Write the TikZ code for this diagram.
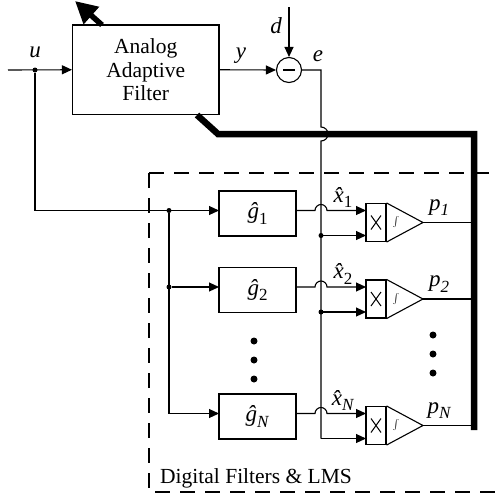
\documentclass[tikz,border=0pt]{standalone}
\usepackage{fontspec}
\setmainfont{Liberation Serif}
\usetikzlibrary{arrows.meta,calc}
\newcommand\subl[1]{\raisebox{-5.5pt}{\fontsize{17}{17}\selectfont #1}}
\begin{document}
\begin{tikzpicture}[x=1pt,y=-1pt,
  wire/.style={line width=1.1pt},
  sig/.style={wire,-{Triangle[length=10pt,width=9pt]}},
  bus/.style={line width=6.5pt,line join=miter},
  blk/.style={draw,line width=1.1pt,inner sep=0pt},
  jdot/.style={circle,fill,inner sep=0pt,minimum size=5pt},
  bigdot/.style={circle,fill,inner sep=0pt,minimum size=7pt},
  txt/.style={font=\fontsize{21.5}{23.5}\selectfont,inner sep=0pt},
  lbl/.style={font=\fontsize{23}{24}\selectfont\itshape,inner sep=0pt}
]
\useasboundingbox (0,0) rectangle (497,499);

% dashed region
\draw[line width=1.2pt,dash pattern=on 15pt off 10pt] (149,173) -- (500,173);
\draw[line width=1.2pt,dash pattern=on 15pt off 10pt] (149,173) -- (149,492) -- (500,492);
\node[txt,anchor=west] (dlab) at (160,478) {Digital Filters \& LMS};

% analog filter
\node[blk,txt,minimum width=146.5pt,minimum height=89.5pt,align=center] (filt) at (145.75,69.75) {Analog\\Adaptive\\Filter};
\node[draw,circle,line width=1.1pt,minimum size=25pt,inner sep=0pt] (sum) at (289,70) {};
\draw[line width=1.6pt] ($(sum)+(-6,0)$) -- ($(sum)+(6,0)$);

\coordinate (in) at (8,70);
\node[jdot] (uj) at (35,70) {};
\coordinate (dsrc) at (289,7);
\coordinate (ec) at (321,70);

\draw[sig] (in) -- (filt.west);
\draw[sig] (filt.east) -- (sum.west);
\draw[sig] (dsrc) -- (sum.north);

\node[lbl] (ul) at (35,52) {u};
\node[lbl] (yl) at (241,56) {y};
\node[lbl] (dl) at (276,26) {d};
\node[lbl] (el) at (318,56) {e};

% thick adaptation bus and arrow
\coordinate (bs) at (197,115);
\coordinate (bk) at (218,134);
\coordinate (bc) at (474,134);
\coordinate (be) at (474,430);
\draw[bus] (bs) -- (bk) -- (bc) -- (be);
\coordinate (as) at (102,25);
\coordinate (ae) at (75,1);
\draw[line width=5.5pt,-{Triangle[length=22pt,width=22pt]}] (as) -- (ae);

% rows
\foreach \i/\r/\s in {1/210.5/1,2/287/2,3/413.5/\textit{N}}{
  \node[blk,lbl,minimum width=77pt,minimum height=45pt] (g\i) at (257.5,{\r+3}) {ĝ\subl{\upshape\s}};
  \coordinate (gi\i) at (219,\r);
  \coordinate (go\i) at (296,\r);
  \node[blk,minimum width=20pt,minimum height=38pt] (m\i) at (376,{\r+12}) {};
  \coordinate (mi\i) at (366,\r);
  \coordinate (ml\i) at (366,{\r+25});
  \coordinate (ed\i) at (321,{\r+25});
  \coordinate (t\i) at (423,{\r+12});
  \coordinate (o\i) at (474,{\r+12});
  \draw[wire] (m\i.north east) -- (t\i) -- (m\i.south east);
  \draw[line width=1pt] ($(m\i)+(-5,-7)$) -- ($(m\i)+(5,7)$);
  \draw[line width=1pt] ($(m\i)+(-5,7)$) -- ($(m\i)+(5,-7)$);
  \node[inner sep=0pt,font=\fontsize{17}{17}\selectfont] (int\i) at (396,{\r+12}) {$\int$};
  \draw[sig] (go\i) -- (315,\r) arc(180:0:6pt) -- (mi\i);
  \draw[sig] (ed\i) -- (ml\i);
  \draw[wire] (t\i) -- (o\i);
  \node[lbl] (xl\i) at (343,{\r-13}) {\^{x}\subl{\upshape\s}};
  \node[lbl] (pl\i) at (439,{\r-3}) {p\subl{\s}};
}

% distribution of u
\node[jdot] (jd1) at (169,210.5) {};
\node[jdot] (jd2) at (169,287) {};
\coordinate (jc3) at (169,413.5);
\draw[sig] (uj) |- (gi1);
\draw[wire] (jd1) -- (jc3);
\draw[sig] (jd2) -- (gi2);
\draw[sig] (jc3) -- (gi3);

% error line
\node[jdot] (ej1) at (ed1) {};
\node[jdot] (ej2) at (ed2) {};
\draw[wire] (sum.east) -- (ec) -- (321,127) arc(90:-90:7pt) -- (ed3);

% ellipsis dots
\foreach \k/\yy in {1/341,2/360,3/379}{\node[bigdot] (ld\k) at (254,\yy) {};}
\foreach \k/\yy in {1/335,2/354,3/373}{\node[bigdot] (rd\k) at (433,\yy) {};}
\end{tikzpicture}
\end{document}
